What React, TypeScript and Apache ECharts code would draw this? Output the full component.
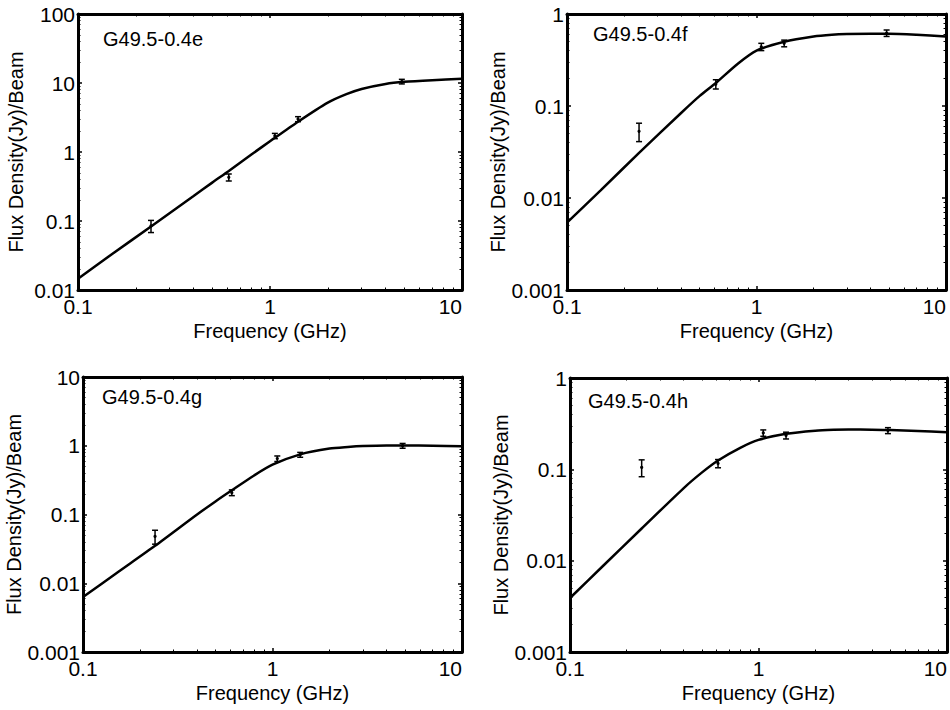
import React, { useEffect, useRef } from "react";
import * as echarts from "echarts";

// ---- data ----
const freqs = [0.24, 0.61, 1.06, 1.4, 4.86];

const fluxE = [0.085, 0.43, 1.71, 3.0, 10.5];
const errE = [0.017, 0.05, 0.15, 0.25, 0.8];
const fluxF = [0.053, 0.173, 0.44, 0.48, 0.62];
const errF = [0.012, 0.02, 0.04, 0.04, 0.05];
const fluxG = [0.048, 0.208, 0.65, 0.74, 1.0];
const errG = [0.011, 0.02, 0.06, 0.06, 0.08];
const fluxH = [0.105, 0.116, 0.25, 0.235, 0.266];
const errH = [0.022, 0.012, 0.02, 0.02, 0.02];

// fitted curves at these frequencies
const fitFreqs = [0.1, 0.15, 0.24, 0.4, 0.5, 0.61, 0.8, 1, 1.4, 2, 2.5, 3, 4, 5, 7, 10];
const fitE = [0.0145, 0.033, 0.083, 0.23, 0.36, 0.53, 0.92, 1.43, 2.75, 5.2, 6.9, 8.2, 9.7, 10.4, 11.0, 11.5];
const fitF = [0.0054, 0.012, 0.031, 0.084, 0.128, 0.178, 0.29, 0.4, 0.5, 0.57, 0.595, 0.605, 0.61, 0.61, 0.595, 0.57];
const fitG = [0.0063, 0.014, 0.035, 0.1, 0.155, 0.225, 0.37, 0.53, 0.75, 0.91, 0.96, 0.99, 1.01, 1.01, 1.0, 0.98];
const fitH = [0.0039, 0.0088, 0.0225, 0.062, 0.092, 0.125, 0.172, 0.21, 0.245, 0.265, 0.271, 0.273, 0.272, 0.27, 0.263, 0.254];

const names = ["G49.5-0.4e", "G49.5-0.4f", "G49.5-0.4g", "G49.5-0.4h"];
const yMins = [0.01, 0.001, 0.001, 0.001];
const yMaxs = [100, 1, 10, 1];

const xMin = 0.1;
const xMax = 10;
const minorMantissas = [2, 3, 4, 5, 6, 7, 8, 9];
const xDecades = [0.1, 1];
const yDecades = [0.001, 0.01, 0.1, 1, 10];

const xTitle = "Frequency (GHz)";
const yTitle = "Flux Density(Jy)/Beam";

// ---- layout ----
const FONT = "'Liberation Sans', Arial, sans-serif";
const grids = [
  { left: 78, top: 14, width: 384, height: 276 },
  { left: 567, top: 14, width: 379, height: 276 },
  { left: 83, top: 377, width: 379, height: 275 },
  { left: 570, top: 378, width: 378, height: 274 },
];
const labelPos = [
  [103, 29],
  [593, 24],
  [102, 387],
  [588, 391],
];

function minorTicks(decades: number[], lo: number, hi: number) {
  const out: number[] = [];
  decades.forEach((d) =>
    minorMantissas.forEach((m) => {
      const v = +(d * m).toPrecision(6);
      if (v > lo && v < hi) out.push(v);
    })
  );
  return out;
}

function buildOption() {
  const fluxes = [fluxE, fluxF, fluxG, fluxH];
  const errs = [errE, errF, errG, errH];
  const fits = [fitE, fitF, fitG, fitH];
  const xAxis: any[] = [];
  const yAxis: any[] = [];
  const series: any[] = [];
  const graphic: any[] = [];
  const black = "#000";
  const lineStyle = { color: black, width: 3 };
  const minorX = minorTicks(xDecades, xMin, xMax);

  grids.forEach((g, i) => {
    const minorY = minorTicks(yDecades, yMins[i], yMaxs[i]);
    const baseX = {
      gridIndex: i,
      type: "log",
      logBase: 10,
      min: xMin,
      max: xMax,
      splitLine: { show: false },
    };
    const baseY = {
      gridIndex: i,
      type: "log",
      logBase: 10,
      min: yMins[i],
      max: yMaxs[i],
      splitLine: { show: false },
    };
    xAxis.push({
      ...baseX,
      position: "bottom",
      name: xTitle,
      nameLocation: "middle",
      nameGap: 31,
      nameTextStyle: { fontSize: 20, color: black, fontFamily: FONT },
      axisLine: { lineStyle },
      axisTick: { inside: true, length: 4, lineStyle: { color: black, width: 1.5 } },
      axisLabel: {
        fontSize: 21,
        color: black,
        fontFamily: FONT,
        margin: 6,
        alignMaxLabel: "right",
      },
    });
    xAxis.push({
      ...baseX,
      position: "top",
      axisLine: { lineStyle },
      axisTick: { inside: true, length: 4, lineStyle: { color: black, width: 1.5 } },
      axisLabel: { show: false },
    });
    ["bottom", "top"].forEach((pos) =>
      xAxis.push({
        ...baseX,
        position: pos,
        axisLine: { show: false },
        axisTick: {
          inside: true,
          length: 2.5,
          customValues: minorX,
          lineStyle: { color: black, width: 1 },
        },
        axisLabel: { show: false },
      })
    );
    yAxis.push({
      ...baseY,
      position: "left",
      name: yTitle,
      nameLocation: "middle",
      nameGap: 52,
      nameTextStyle: { fontSize: 20, color: black, fontFamily: FONT },
      axisLine: { lineStyle },
      axisTick: { inside: true, length: 4, lineStyle: { color: black, width: 1.5 } },
      axisLabel: { fontSize: 21, color: black, fontFamily: FONT, margin: 3 },
    });
    yAxis.push({
      ...baseY,
      position: "right",
      axisLine: { lineStyle },
      axisTick: { inside: true, length: 4, lineStyle: { color: black, width: 1.5 } },
      axisLabel: { show: false },
    });
    ["left", "right"].forEach((pos) =>
      yAxis.push({
        ...baseY,
        position: pos,
        axisLine: { show: false },
        axisTick: {
          inside: true,
          length: 2.5,
          customValues: minorY,
          lineStyle: { color: black, width: 1 },
        },
        axisLabel: { show: false },
      })
    );

    series.push({
      type: "line",
      xAxisIndex: i * 4,
      yAxisIndex: i * 4,
      data: fitFreqs.map((f, k) => [f, fits[i][k]]),
      smooth: 0.25,
      showSymbol: false,
      symbol: "none",
      lineStyle: { color: black, width: 2.5 },
      silent: true,
    });
    series.push({
      type: "custom",
      xAxisIndex: i * 4,
      yAxisIndex: i * 4,
      data: freqs.map((f, k) => [
        f,
        fluxes[i][k],
        fluxes[i][k] - errs[i][k],
        fluxes[i][k] + errs[i][k],
      ]),
      encode: { x: 0, y: 1 },
      renderItem: (params: any, api: any) => {
        const x = api.value(0);
        const pC = api.coord([x, api.value(1)]);
        const pLo = api.coord([x, api.value(2)]);
        const pHi = api.coord([x, api.value(3)]);
        const cap = 3;
        const st = { stroke: black, lineWidth: 1.5 };
        return {
          type: "group",
          children: [
            { type: "line", shape: { x1: pLo[0], y1: pLo[1], x2: pHi[0], y2: pHi[1] }, style: st },
            { type: "line", shape: { x1: pLo[0] - cap, y1: pLo[1], x2: pLo[0] + cap, y2: pLo[1] }, style: st },
            { type: "line", shape: { x1: pHi[0] - cap, y1: pHi[1], x2: pHi[0] + cap, y2: pHi[1] }, style: st },
            { type: "circle", shape: { cx: pC[0], cy: pC[1], r: 1.6 }, style: { fill: black } },
          ],
        };
      },
    });

    graphic.push({
      type: "text",
      x: labelPos[i][0],
      y: labelPos[i][1],
      style: {
        text: names[i],
        fontSize: 20,
        fontFamily: FONT,
        fill: black,
      },
    });
  });

  return {
    animation: false,
    backgroundColor: "#fff",
    grid: grids.map((g) => ({ ...g, containLabel: false })),
    xAxis,
    yAxis,
    series,
    graphic,
  };
}

export default function App() {
  const ref = useRef<HTMLDivElement>(null);
  useEffect(() => {
    if (!ref.current) return;
    const chart = echarts.init(ref.current, undefined, { renderer: "svg" });
    chart.setOption(buildOption() as any);
    return () => chart.dispose();
  }, []);
  return (
    <div
      ref={ref}
      style={{ position: "fixed", left: 0, top: 0, width: 950, height: 710, background: "#fff" }}
    />
  );
}
